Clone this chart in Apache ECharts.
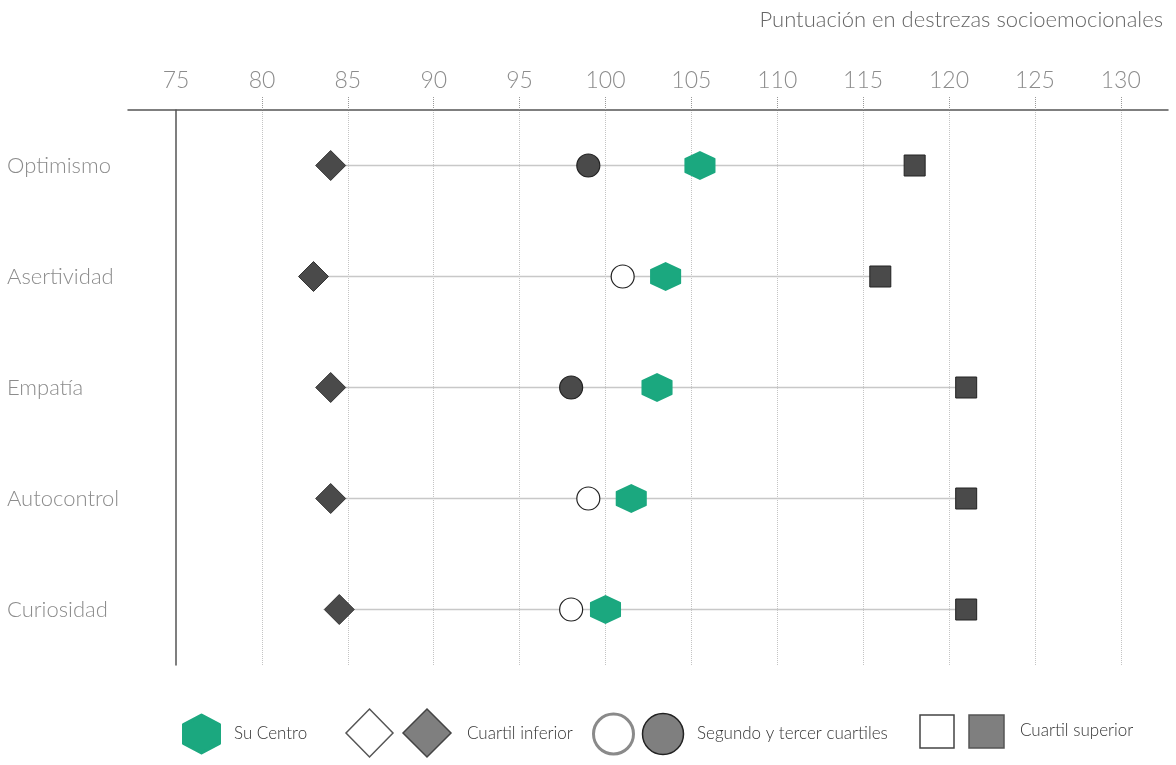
<!DOCTYPE html>
<html>
<head>
<meta charset="utf-8">
<script src="https://cdn.jsdelivr.net/npm/echarts@6/dist/echarts.min.js"></script>
<style>
  html, body { margin: 0; padding: 0; background: #fff; }
  #chart { width: 1176px; height: 765px; }
</style>
</head>
<body>
<div id="chart"></div>
<script>
// datos
const destrezas = ['Optimismo', 'Asertividad', 'Empatía', 'Autocontrol', 'Curiosidad']
const cuartilInferior = [84, 83, 84, 84, 84.5]
const cuartilMedio = [99, 101, 98, 99, 98]
const medioRelleno = [true, false, true, false, false]
const cuartilSuperior = [118, 116, 121, 121, 121]
const suCentro = [105.5, 103.5, 103, 101.5, 100]
const ticks = [75, 80, 85, 90, 95, 100, 105, 110, 115, 120, 125, 130]

const FONT = 'Lato'
const OSCURO = '#4a4a4a'
const VERDE = '#1ba87f'
const HEX = 'path://M50,0 L100,25 L100,75 L50,100 L0,75 L0,25 Z'

const chart = echarts.init(document.getElementById('chart'))

const puntos = (vals) => vals.map((v, i) => [v, destrezas[i]])

// leyenda dibujada a mano: pares de símbolos vacío / relleno
const ly = 734
const leyenda = [
  {
    type: 'polygon',
    shape: { points: [[201.5, 715], [219.5, 724.5], [219.5, 743.5], [201.5, 753], [183.5, 743.5], [183.5, 724.5]] },
    style: { fill: VERDE, stroke: VERDE, lineWidth: 3, lineJoin: 'round' },
  },
  { type: 'text', x: 234, y: ly, style: { text: 'Su Centro', font: '300 17px ' + FONT, fill: '#333', verticalAlign: 'middle' } },
  {
    type: 'polygon',
    shape: { points: [[369.5, 709], [393, 733], [369.5, 757], [346, 733]] },
    style: { fill: '#fff', stroke: '#555', lineWidth: 1.5 },
  },
  {
    type: 'polygon',
    shape: { points: [[427, 709], [451, 733], [427, 757], [403, 733]] },
    style: { fill: '#7f7f7f', stroke: '#444', lineWidth: 1.5 },
  },
  { type: 'text', x: 467, y: ly, style: { text: 'Cuartil inferior', font: '300 17px ' + FONT, fill: '#333', verticalAlign: 'middle' } },
  { type: 'circle', shape: { cx: 613.5, cy: ly, r: 20 }, style: { fill: '#fff', stroke: '#8a8a8a', lineWidth: 3 } },
  { type: 'circle', shape: { cx: 663, cy: ly, r: 20.5 }, style: { fill: '#7f7f7f', stroke: '#222', lineWidth: 1.5 } },
  { type: 'text', x: 697, y: ly, style: { text: 'Segundo y tercer cuartiles', font: '300 17px ' + FONT, fill: '#333', verticalAlign: 'middle' } },
  { type: 'rect', shape: { x: 920, y: 715, width: 34, height: 33 }, style: { fill: '#fff', stroke: '#444', lineWidth: 1.5 } },
  { type: 'rect', shape: { x: 969, y: 715, width: 35, height: 33 }, style: { fill: '#7f7f7f', stroke: '#555', lineWidth: 1.5 } },
  { type: 'text', x: 1020, y: 731, style: { text: 'Cuartil superior', font: '300 17px ' + FONT, fill: '#333', verticalAlign: 'middle' } },
]

const option = {
  animation: false,
  textStyle: { fontFamily: FONT },
  title: {
    text: 'Puntuación en destrezas socioemocionales',
    right: 8,
    top: 4,
    textStyle: { color: '#666', fontSize: 22, fontWeight: 300, fontFamily: FONT },
  },
  grid: { left: 128, right: 8, top: 110, height: 555 },
  xAxis: {
    type: 'value',
    position: 'top',
    min: 72.2,
    max: 132.75,
    axisLine: { show: true, lineStyle: { color: '#555', width: 1.5 } },
    axisTick: {
      show: true,
      customValues: ticks.slice(1),
      length: 14,
      lineStyle: { color: '#999', type: 'dotted' },
    },
    axisLabel: {
      customValues: ticks,
      color: '#8c8c8c',
      fontSize: 23,
      fontWeight: 300,
      margin: 18,
    },
    splitLine: { show: true, lineStyle: { color: '#c4c4c4', type: 'dotted' } },
  },
  yAxis: {
    type: 'category',
    inverse: true,
    data: destrezas,
    offset: -48,
    axisLine: { show: true, lineStyle: { color: '#555', width: 1.5 } },
    axisTick: { show: false },
    axisLabel: { align: 'left', margin: 169, color: '#8c8c8c', fontSize: 22, fontWeight: 300 },
    splitLine: { show: false },
  },
  graphic: leyenda,
  series: [
    {
      type: 'custom',
      z: 1,
      data: cuartilInferior.map((v, i) => [v, i, cuartilSuperior[i]]),
      renderItem: (params, api) => {
        const a = api.coord([api.value(0), api.value(1)])
        const b = api.coord([api.value(2), api.value(1)])
        return {
          type: 'line',
          shape: { x1: a[0], y1: a[1], x2: b[0], y2: b[1] },
          style: { stroke: '#c8c8c8', lineWidth: 1.5 },
        }
      },
    },
    {
      type: 'scatter',
      z: 3,
      symbol: 'diamond',
      symbolSize: 30,
      itemStyle: { color: OSCURO, borderColor: '#333', borderWidth: 1, opacity: 1 },
      data: puntos(cuartilInferior),
    },
    {
      type: 'scatter',
      z: 3,
      symbol: 'circle',
      symbolSize: 23,
      data: cuartilMedio.map((v, i) => ({
        value: [v, destrezas[i]],
        itemStyle: medioRelleno[i]
          ? { color: OSCURO, borderColor: '#222', borderWidth: 1.2, opacity: 1 }
          : { color: '#fff', borderColor: '#222', borderWidth: 1.2, opacity: 1 },
      })),
    },
    {
      type: 'scatter',
      z: 3,
      symbol: 'rect',
      symbolSize: 21,
      itemStyle: { color: OSCURO, borderColor: '#222', borderWidth: 1, opacity: 1 },
      data: puntos(cuartilSuperior),
    },
    {
      type: 'scatter',
      z: 4,
      symbol: HEX,
      symbolSize: [29, 27],
      itemStyle: { color: VERDE, borderColor: VERDE, borderWidth: 2, borderJoin: 'round', opacity: 1 },
      data: puntos(suCentro),
    },
  ],
}

chart.setOption(option)
</script>
</body>
</html>
